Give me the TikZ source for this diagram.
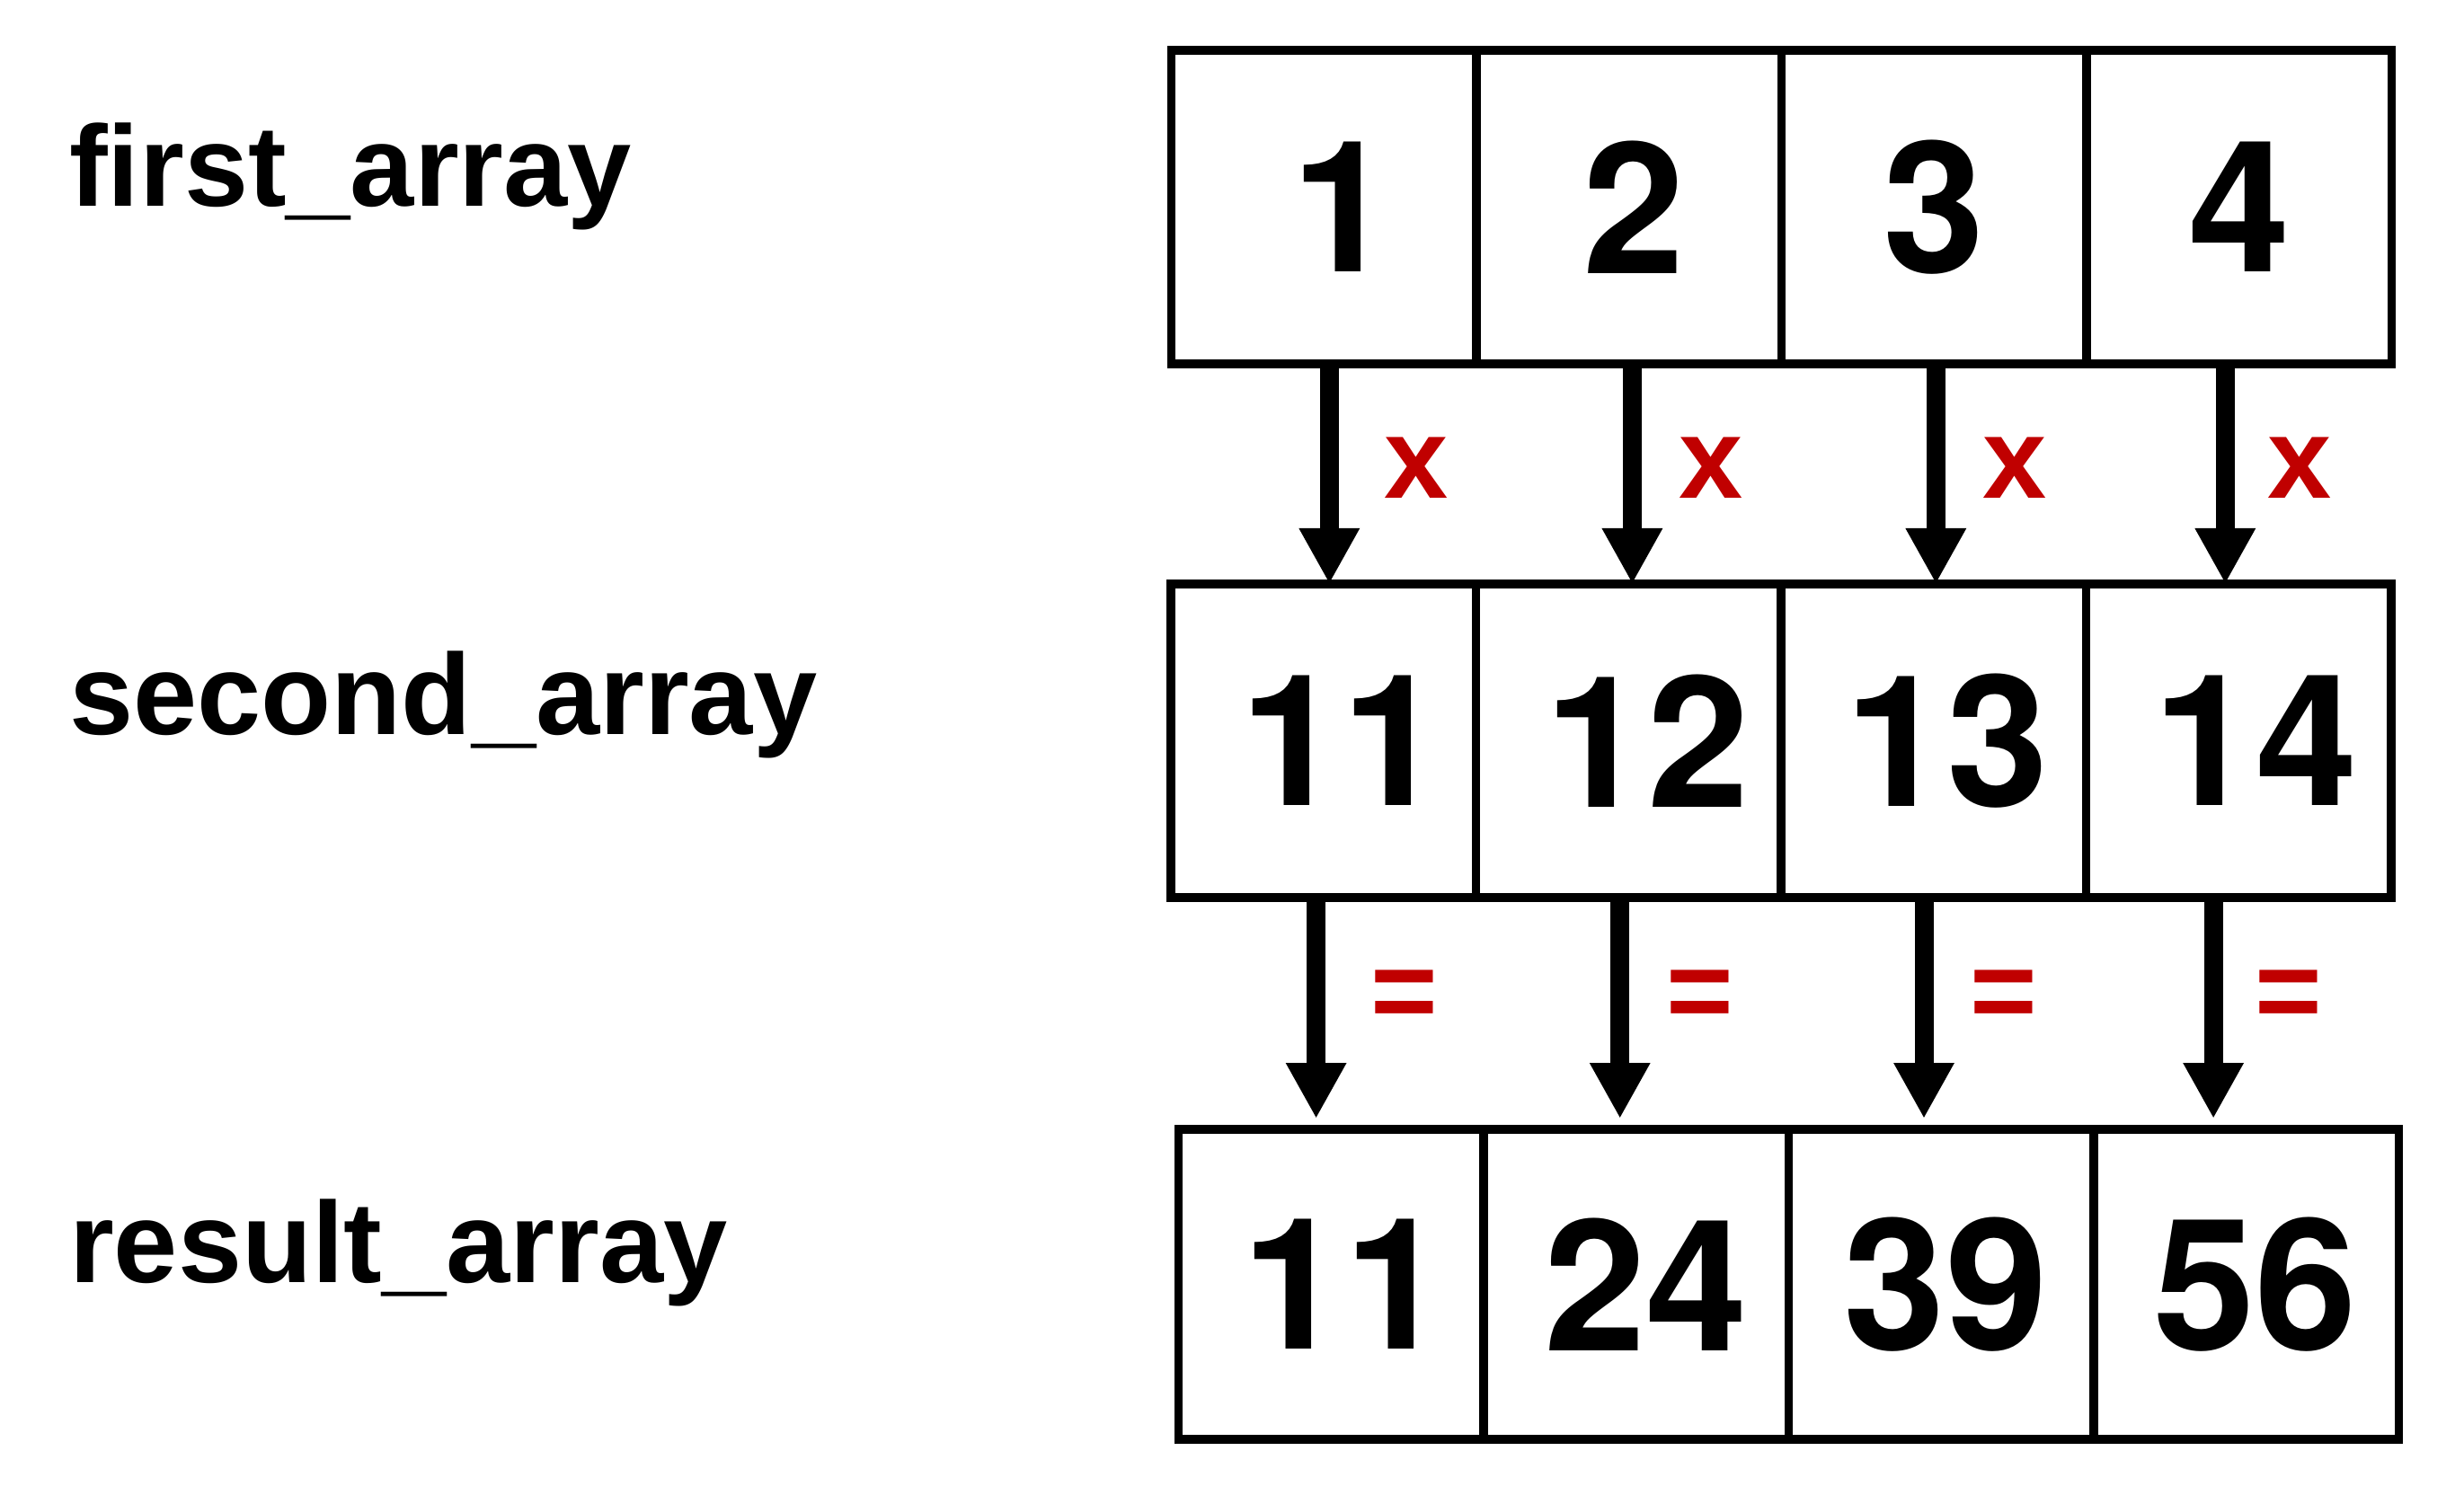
\documentclass[tikz,border=0pt]{standalone}
\usepackage{fontspec}
\setmainfont{Liberation Sans}
\newfontfamily\digitfont{TeX Gyre Heros}
\usetikzlibrary{positioning,arrows.meta}
\definecolor{oprd}{RGB}{192,0,0}

\tikzset{
  cell/.style={draw, line width=0.095cm, minimum width=3.395cm, minimum height=3.49cm,
    inner sep=0pt, outer sep=0pt, font=\digitfont\fontsize{58}{58}\selectfont\bfseries},
  nudge/.style={execute at begin node={\hspace*{#1}}},
  arrname/.style={anchor=base west, inner sep=0pt, font=\fontsize{36.4}{36.4}\selectfont\bfseries},
  opsym/.style={text=oprd, inner sep=0pt, font=\fontsize{36.4}{36.4}\selectfont\bfseries},
  bigarrow/.style={line width=0.21cm, -{Triangle[width=0.63cm,length=0.62cm]}}
}

\begin{document}
\begin{tikzpicture}

\useasboundingbox (0,0) rectangle (27.42,16.73);

% array names
\node [arrname] (n1) at (0.765,14.43) {first\_array};
\node [arrname] (n2) at (0.765,8.56) {second\_array};
\node [arrname] (n3) at (0.765,2.46) {result\_array};

% first array
\node [cell, nudge=0.42cm] (a1) at (14.733,14.425) {1};
\node [cell, nudge=0.1cm, right=0pt of a1] (a2) {2};
\node [cell, right=0pt of a2] (a3) {3};
\node [cell, right=0pt of a3] (a4) {4};

% second array
\node [cell, nudge=0.42cm] (b1) at (14.726,8.485) {11};
\node [cell, nudge=0.42cm, right=0pt of b1] (b2) {12};
\node [cell, nudge=0.3cm, right=0pt of b2] (b3) {13};
\node [cell, nudge=0.38cm, right=0pt of b3] (b4) {14};

% result array
\node [cell, nudge=0.3cm, minimum height=3.45cm] (c1) at (14.81,2.435) {11};
\node [cell, nudge=0.22cm, minimum height=3.45cm, right=0pt of c1] (c2) {24};
\node [cell, nudge=0.1cm, minimum height=3.45cm, right=0pt of c2] (c3) {39};
\node [cell, nudge=0.2cm, minimum height=3.45cm, right=0pt of c3] (c4) {56};

% multiply
\draw[bigarrow] ([xshift=0.06cm]a1.south) -- ([xshift=0.06cm]a1.south |- b1.north);
\draw[bigarrow] ([xshift=0.036cm]a2.south) -- ([xshift=0.036cm]a2.south |- b2.north);
\draw[bigarrow] ([xshift=0.02cm]a3.south) -- ([xshift=0.02cm]a3.south |- b3.north);
\draw[bigarrow] ([xshift=-0.155cm]a4.south) -- ([xshift=-0.155cm]a4.south |- b4.north);

\node [opsym] (x1) at (15.76,11.52) {x};
\node [opsym] (x2) at (19.04,11.52) {x};
\node [opsym] (x3) at (22.42,11.52) {x};
\node [opsym] (x4) at (25.59,11.52) {x};

% equals
\draw[bigarrow, shorten >=0.12cm] ([xshift=-0.08cm]b1.south) -- ([xshift=-0.08cm]b1.south |- c1.north);
\draw[bigarrow, shorten >=0.12cm] ([xshift=-0.094cm]b2.south) -- ([xshift=-0.094cm]b2.south |- c2.north);
\draw[bigarrow, shorten >=0.12cm] ([xshift=-0.106cm]b3.south) -- ([xshift=-0.106cm]b3.south |- c3.north);
\draw[bigarrow, shorten >=0.12cm] ([xshift=-0.28cm]b4.south) -- ([xshift=-0.28cm]b4.south |- c4.north);

\node [opsym] (e1) at (15.63,5.60) {=};
\node [opsym] (e2) at (18.92,5.60) {=};
\node [opsym] (e3) at (22.30,5.60) {=};
\node [opsym] (e4) at (25.47,5.60) {=};

\end{tikzpicture}
\end{document}
